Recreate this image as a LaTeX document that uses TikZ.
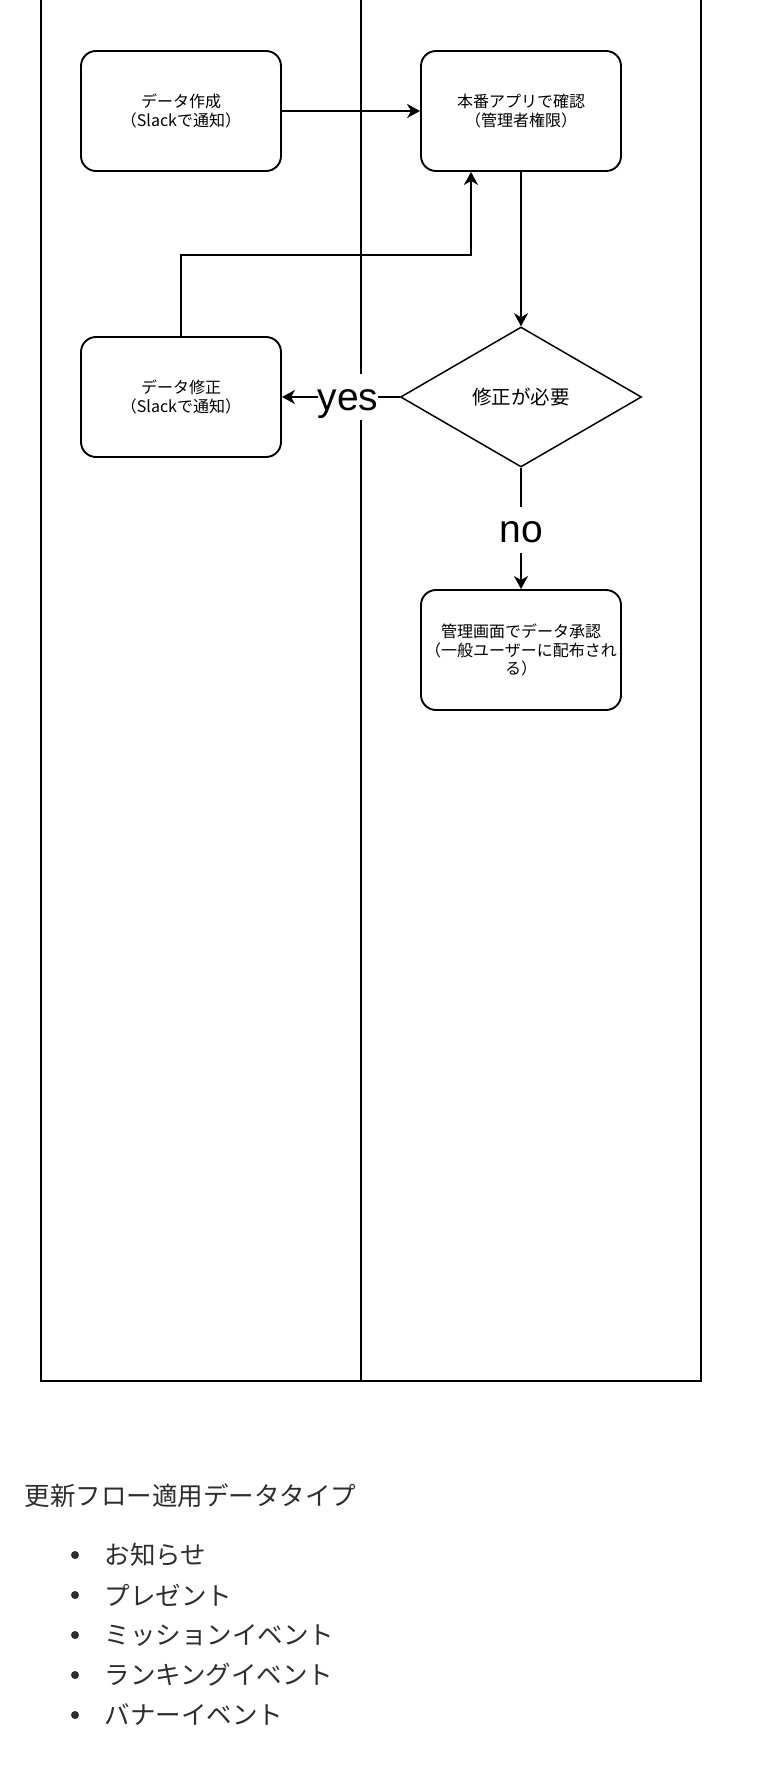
\documentclass[tikz,border=0pt]{standalone}
\usepackage{fontspec}
\newfontfamily\jp{Noto Sans CJK JP}
\newfontfamily\yn{Liberation Sans}
\usetikzlibrary{arrows.meta}
\usetikzlibrary{shapes.geometric}
\definecolor{listgray}{HTML}{2E2E2E}

\begin{document}
\begin{tikzpicture}
	[x=1pt,y=-1pt,
	 lane/.style={line width=1.5pt},
	 box/.style={draw,rounded corners=15pt,line width=1.9pt,minimum width=200pt,minimum height=120pt,
		align=center,font=\jp\fontsize{16}{18.5}\selectfont},
	 decision/.style={draw,diamond,line width=1.5pt,minimum width=241pt,minimum height=140pt,inner sep=0pt,
		font=\jp\fontsize{19.5}{22}\selectfont},
	 flow/.style={line width=1.6pt,-{Stealth[length=13pt,width=14pt,inset=4pt]}},
	 lbl/.style={fill=white,inner xsep=0pt,inner ysep=0pt,minimum height=46pt,text height=30pt,text depth=4pt,
		font=\yn\fontsize{39}{46}\selectfont},
	 item/.style={anchor=west,text=listgray,font=\jp\fontsize{25.5}{30}\selectfont}]
	\useasboundingbox[fill=white] (0,0) rectangle (761,1776);

	% swimlanes
	\draw[lane] (41,0) -- (41,1381) -- (701,1381) -- (701,0);
	\draw[lane] (361,0) -- (361,1381);

	\node[box] (make) at (181,111) {データ作成\\（Slackで通知）};
	\node[box] (check) at (521,111) {本番アプリで確認\\（管理者権限）};
	\node[decision] (need) at (521,397) {修正が必要};
	\node[box] (fix) at (181,397) {データ修正\\（Slackで通知）};
	\node[box] (approve) at (521,650) {管理画面でデータ承認\\（一般ユーザーに配布され\\る）};
	\coordinate (back) at (471,255);

	\draw[flow] (make) -- (check);
	\draw[flow] (check) -- (need);
	\draw[flow] (need) -- node[lbl,pos=0.44] {yes} (fix);
	\draw[flow] (need) -- node[lbl,pos=0.51] {no} (approve);
	\draw[flow] (fix.north) |- (back) -- (back |- check.south);

	% data types
	\node[item] (types) at (21,1496) {更新フロー適用データタイプ};
	\foreach \t [count=\i] in {お知らせ,プレゼント,ミッションイベント,ランキングイベント,バナーイベント}
	{
		\fill[listgray] (75,1515+40*\i) circle (4pt);
		\node[item] (type\i) at (101,1515+40*\i) {\t};
	}
\end{tikzpicture}
\end{document}
